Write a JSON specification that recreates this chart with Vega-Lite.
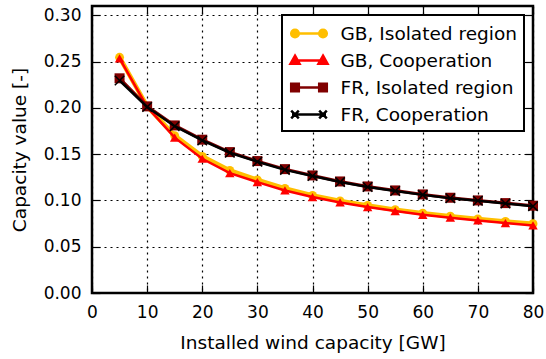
{
  "$schema": "https://vega.github.io/schema/vega-lite/v6.json",
  "width": 441,
  "height": 287,
  "autosize": {"type": "none"},
  "padding": {"left": 92, "top": 6, "right": 13, "bottom": 66},
  "background": "white",
  "config": {
    "font": "DejaVu Sans",
    "view": {"stroke": "black", "strokeWidth": 2.5},
    "axis": {
      "domain": false,
      "tickColor": "black",
      "tickWidth": 1.2,
      "tickSize": -8,
      "labelFont": "DejaVu Sans",
      "labelFontSize": 17,
      "labelColor": "black",
      "titleFont": "DejaVu Sans",
      "titleFontSize": 18.5,
      "titleFontWeight": "normal",
      "titleColor": "black",
      "gridColor": "black",
      "gridDash": [2, 4],
      "gridWidth": 1.2,
      "gridOpacity": 1
    },
    "legend": {
      "labelFont": "DejaVu Sans",
      "labelFontSize": 18.5,
      "labelColor": "black",
      "labelLimit": 0
    }
  },
  "data": {
    "values": [
      {"x": 5, "s": "GB, Isolated region", "v": 0.2546},
      {"x": 10, "s": "GB, Isolated region", "v": 0.2016},
      {"x": 15, "s": "GB, Isolated region", "v": 0.170},
      {"x": 20, "s": "GB, Isolated region", "v": 0.1476},
      {"x": 25, "s": "GB, Isolated region", "v": 0.1324},
      {"x": 30, "s": "GB, Isolated region", "v": 0.1222},
      {"x": 35, "s": "GB, Isolated region", "v": 0.113},
      {"x": 40, "s": "GB, Isolated region", "v": 0.1054},
      {"x": 45, "s": "GB, Isolated region", "v": 0.0995},
      {"x": 50, "s": "GB, Isolated region", "v": 0.0945},
      {"x": 55, "s": "GB, Isolated region", "v": 0.090},
      {"x": 60, "s": "GB, Isolated region", "v": 0.0862},
      {"x": 65, "s": "GB, Isolated region", "v": 0.083},
      {"x": 70, "s": "GB, Isolated region", "v": 0.080},
      {"x": 75, "s": "GB, Isolated region", "v": 0.0772},
      {"x": 80, "s": "GB, Isolated region", "v": 0.0748},
      {"x": 5, "s": "GB, Cooperation", "v": 0.2535},
      {"x": 10, "s": "GB, Cooperation", "v": 0.2010},
      {"x": 15, "s": "GB, Cooperation", "v": 0.1678},
      {"x": 20, "s": "GB, Cooperation", "v": 0.145},
      {"x": 25, "s": "GB, Cooperation", "v": 0.1295},
      {"x": 30, "s": "GB, Cooperation", "v": 0.1198},
      {"x": 35, "s": "GB, Cooperation", "v": 0.1108},
      {"x": 40, "s": "GB, Cooperation", "v": 0.1036},
      {"x": 45, "s": "GB, Cooperation", "v": 0.0978},
      {"x": 50, "s": "GB, Cooperation", "v": 0.0928},
      {"x": 55, "s": "GB, Cooperation", "v": 0.0885},
      {"x": 60, "s": "GB, Cooperation", "v": 0.0845},
      {"x": 65, "s": "GB, Cooperation", "v": 0.0813},
      {"x": 70, "s": "GB, Cooperation", "v": 0.0784},
      {"x": 75, "s": "GB, Cooperation", "v": 0.0755},
      {"x": 80, "s": "GB, Cooperation", "v": 0.073},
      {"x": 5, "s": "FR, Isolated region", "v": 0.2319},
      {"x": 10, "s": "FR, Isolated region", "v": 0.2016},
      {"x": 15, "s": "FR, Isolated region", "v": 0.181},
      {"x": 20, "s": "FR, Isolated region", "v": 0.1656},
      {"x": 25, "s": "FR, Isolated region", "v": 0.1522},
      {"x": 30, "s": "FR, Isolated region", "v": 0.1425},
      {"x": 35, "s": "FR, Isolated region", "v": 0.1338},
      {"x": 40, "s": "FR, Isolated region", "v": 0.127},
      {"x": 45, "s": "FR, Isolated region", "v": 0.1205},
      {"x": 50, "s": "FR, Isolated region", "v": 0.1151},
      {"x": 55, "s": "FR, Isolated region", "v": 0.1108},
      {"x": 60, "s": "FR, Isolated region", "v": 0.1065},
      {"x": 65, "s": "FR, Isolated region", "v": 0.1029},
      {"x": 70, "s": "FR, Isolated region", "v": 0.100},
      {"x": 75, "s": "FR, Isolated region", "v": 0.0971},
      {"x": 80, "s": "FR, Isolated region", "v": 0.0943},
      {"x": 5, "s": "FR, Cooperation", "v": 0.2295},
      {"x": 10, "s": "FR, Cooperation", "v": 0.2010},
      {"x": 15, "s": "FR, Cooperation", "v": 0.1802},
      {"x": 20, "s": "FR, Cooperation", "v": 0.1648},
      {"x": 25, "s": "FR, Cooperation", "v": 0.1515},
      {"x": 30, "s": "FR, Cooperation", "v": 0.1418},
      {"x": 35, "s": "FR, Cooperation", "v": 0.1330},
      {"x": 40, "s": "FR, Cooperation", "v": 0.1263},
      {"x": 45, "s": "FR, Cooperation", "v": 0.1198},
      {"x": 50, "s": "FR, Cooperation", "v": 0.1145},
      {"x": 55, "s": "FR, Cooperation", "v": 0.1102},
      {"x": 60, "s": "FR, Cooperation", "v": 0.1060},
      {"x": 65, "s": "FR, Cooperation", "v": 0.1024},
      {"x": 70, "s": "FR, Cooperation", "v": 0.0996},
      {"x": 75, "s": "FR, Cooperation", "v": 0.0967},
      {"x": 80, "s": "FR, Cooperation", "v": 0.0938}
    ]
  },
  "layer": [
    {
      "encoding": {
        "x": {
          "field": "x", "type": "quantitative",
          "scale": {"domain": [0, 80], "nice": false, "zero": false},
          "axis": {"orient": "bottom", "values": [0, 10, 20, 30, 40, 50, 60, 70, 80], "title": "Installed wind capacity [GW]", "grid": true, "labelPadding": 19, "titlePadding": 13, "labelFlush": false}
        },
        "y": {
          "field": "v", "type": "quantitative",
          "scale": {"domain": [0, 0.31], "nice": false},
          "axis": {"orient": "left", "values": [0, 0.05, 0.1, 0.15, 0.2, 0.25, 0.3], "format": ".2f", "title": "Capacity value [-]", "grid": true, "labelPadding": 19, "titlePadding": 14}
        },
        "color": {
          "field": "s", "type": "nominal",
          "scale": {"domain": ["GB, Isolated region", "GB, Cooperation", "FR, Isolated region", "FR, Cooperation"], "range": ["#FFBF00", "#FF0000", "#800000", "#000000"]},
          "legend": {
            "title": null,
            "orient": "top-right",
            "offset": 9,
            "fillColor": "white",
            "strokeColor": "black",
            "padding": 7,
            "cornerRadius": 0,
            "symbolSize": 400,
            "symbolOffset": 8.5,
            "labelOffset": 20,
            "labelLimit": 0,
            "rowPadding": 6,
            "symbolStrokeWidth": 2.5,
            "encode": {
              "legend": {
                "update": {
                  "strokeWidth": {"value": 2}
                }
              },
              "symbols": {
                "update": {
                  "shape": {"signal": "datum.value === 'GB, Isolated region' ? 'M-1.7,0L1.7,0M-1.02,0A0.38,0.38 0 1,1 -1.78,0A0.38,0.38 0 1,1 -1.02,0ZM1.78,0A0.38,0.38 0 1,1 1.02,0A0.38,0.38 0 1,1 1.78,0Z' : datum.value === 'GB, Cooperation' ? 'M-1.7,0L1.7,0M-1.4,-0.48L-0.95,0.32L-1.85,0.32ZM1.4,-0.48L1.85,0.32L0.95,0.32Z' : datum.value === 'FR, Isolated region' ? 'M-1.7,0L1.7,0M-1.78,-0.38L-1.02,-0.38L-1.02,0.38L-1.78,0.38ZM1.02,-0.38L1.78,-0.38L1.78,0.38L1.02,0.38Z' : 'M-1.7,0L1.7,0M-1.78,-0.38L-1.02,0.38M-1.78,0.38L-1.02,-0.38M1.02,-0.38L1.78,0.38M1.02,0.38L1.78,-0.38'"},
                  "fill": {"signal": "datum.value === 'GB, Isolated region' ? '#FFBF00' : datum.value === 'GB, Cooperation' ? '#FF0000' : datum.value === 'FR, Isolated region' ? '#800000' : 'transparent'"},
                  "stroke": {"signal": "datum.value === 'GB, Isolated region' ? '#FFBF00' : datum.value === 'GB, Cooperation' ? '#FF0000' : datum.value === 'FR, Isolated region' ? '#800000' : '#000000'"},
                  "opacity": {"value": 1},
                  "fillOpacity": {"value": 1},
                  "strokeOpacity": {"value": 1}
                }
              }
            }
          }
        }
      },
      "layer": [
        {"transform": [{"filter": "datum.s === 'GB, Isolated region'"}], "mark": {"type": "line", "strokeWidth": 4.5}},
        {"transform": [{"filter": "datum.s === 'GB, Isolated region'"}], "mark": {"type": "point", "shape": "circle", "filled": true, "size": 80, "opacity": 1}},
        {"transform": [{"filter": "datum.s === 'GB, Cooperation'"}], "mark": {"type": "line", "strokeWidth": 2.5}},
        {"transform": [{"filter": "datum.s === 'GB, Cooperation'"}], "mark": {"type": "point", "shape": "triangle-up", "filled": true, "size": 90, "opacity": 1}},
        {"transform": [{"filter": "datum.s === 'FR, Isolated region'"}], "mark": {"type": "line", "strokeWidth": 3}},
        {"transform": [{"filter": "datum.s === 'FR, Isolated region'"}], "mark": {"type": "point", "shape": "square", "filled": true, "size": 100, "opacity": 1}},
        {"transform": [{"filter": "datum.s === 'FR, Cooperation'"}], "mark": {"type": "line", "strokeWidth": 2.5}},
        {"transform": [{"filter": "datum.s === 'FR, Cooperation'"}], "mark": {"type": "point", "shape": "M-1,-1L1,1M-1,1L1,-1", "filled": false, "size": 90, "strokeWidth": 1.5, "opacity": 1}}
      ]
    },
    {
      "mark": {"type": "point", "opacity": 0},
      "encoding": {
        "x": {
          "field": "x", "type": "quantitative",
          "axis": {"orient": "top", "values": [0, 10, 20, 30, 40, 50, 60, 70, 80], "labels": false, "title": null, "grid": false}
        },
        "y": {
          "field": "v", "type": "quantitative",
          "axis": {"orient": "right", "values": [0, 0.05, 0.1, 0.15, 0.2, 0.25, 0.3], "labels": false, "title": null, "grid": false}
        }
      }
    }
  ],
  "resolve": {"axis": {"x": "independent", "y": "independent"}}
}
